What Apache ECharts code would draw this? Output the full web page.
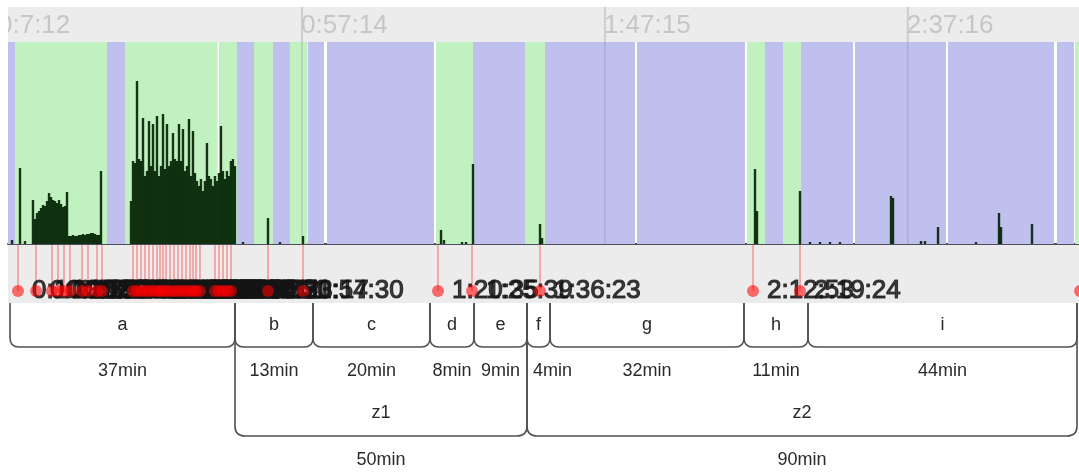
<!DOCTYPE html>
<html>
<head>
<meta charset="utf-8">
<title>activity timeline</title>
<script src="https://cdn.jsdelivr.net/npm/echarts@6/dist/echarts.min.js"></script>
<style>
  html, body { margin: 0; padding: 0; background: #fff; }
  #chart { width: 1079px; height: 472px; }
</style>
</head>
<body>
<div id="chart"></div>
<script>
// all times are minutes since 0:00:00
const timeMin = 8.686
const timeMax = 185.54

// header ticks
const tickTimes = [7.2, 57.2333, 107.25, 157.2667]

// background bands (0 = awake / green, 1 = asleep / purple)
const bandStart = [8.686, 9.84, 25.03, 28.01, 43.53, 46.50, 49.31, 52.44, 55.25, 58.22, 61.36, 79.36,
  85.47, 94.06, 97.36, 112.55, 130.71, 133.69, 136.66, 139.63, 148.55, 163.90, 181.90, 184.88]
const bandEnd = [9.84, 25.03, 28.01, 43.28, 46.50, 49.31, 52.44, 55.25, 58.14, 60.87, 79.03, 85.47,
  94.06, 97.36, 112.22, 130.38, 133.69, 136.66, 139.63, 148.22, 163.57, 181.41, 184.71, 186.0]
const bandKind = [1, 0, 1, 0, 0, 1, 0, 1, 0, 1, 1, 0, 1, 0, 1, 1, 0, 1, 0, 1, 1, 1, 1, 0]

// activity counts
const activityTime = [
  9.35, 10.67, 11.49,
  12.81, 13.14, 13.47, 13.81, 14.14, 14.47, 14.80, 15.13, 15.46, 15.79, 16.12, 16.45, 16.78, 17.11, 17.44, 17.77, 18.10, 18.43,
  18.76, 19.09, 19.42, 19.75, 20.08, 20.41, 20.74, 21.07, 21.40, 21.73, 22.06, 22.39, 22.72, 23.05, 23.38, 23.71, 24.04,
  29.00, 29.33, 29.66, 29.99, 30.32, 30.65, 30.98, 31.31, 31.64, 31.97, 32.30, 32.63, 32.96, 33.29, 33.62, 33.95, 34.28, 34.61,
  34.94, 35.27, 35.60, 35.93, 36.26, 36.59, 36.92, 37.25, 37.58, 37.91, 38.24, 38.57, 38.90, 39.23, 39.56, 39.89, 40.22, 40.55,
  40.88, 41.21, 41.54, 41.87, 42.20, 42.53, 42.86, 43.19, 43.52, 43.85, 44.18, 44.51, 44.84, 45.17, 45.50, 45.83, 46.16,
  47.49, 51.62, 53.60, 57.40, 80.19, 80.68, 83.66, 84.32, 85.47, 96.54, 96.87, 132.04, 132.37, 139.47, 141.12, 142.77,
  144.42, 146.07, 154.50, 154.83, 159.45, 160.11, 162.26, 168.53, 172.33, 172.66, 177.78
]
const activityValue = [
  4, 76, 3,
  44, 25, 31, 33, 36, 39, 38, 43, 51, 47, 44, 43, 41, 44, 40, 37, 38, 52,
  8, 8, 9, 8, 8, 9, 9, 10, 9, 10, 10, 11, 11, 10, 9, 9, 73,
  43, 83, 81, 163, 85, 83, 126, 68, 73, 123, 78, 120, 73, 128, 68, 78, 130, 75,
  120, 78, 83, 111, 85, 83, 120, 83, 115, 73, 78, 125, 68, 113, 71, 63, 58, 65,
  53, 63, 101, 68, 65, 58, 68, 63, 71, 118, 73, 65, 73, 68, 83, 85, 78,
  2, 26, 2, 8, 14, 4, 2, 2, 80, 20, 6, 75, 33, 53, 2, 2,
  2, 2, 48, 46, 3, 3, 17, 2, 31, 17, 20
]

// marked events
const eventTime = [10.34, 13.31, 15.95, 16.94, 17.93, 18.92, 20.91, 21.90, 23.38, 24.21, 29.33, 29.99, 30.65, 31.31,
  31.97, 32.63, 33.29, 33.79, 34.28, 34.78, 35.44, 36.10, 36.76, 37.42, 38.08, 38.74, 39.24, 39.73, 40.39, 42.87,
  43.53, 44.19, 44.85, 45.51, 51.62, 57.40, 79.69, 85.31, 96.54, 131.71, 139.47, 185.71]
const eventLabel = ['0:10:20', '0:13:19', '0:15:57', '0:16:56', '0:17:56', '0:18:55', '0:20:55', '0:21:54', '0:23:23',
  '0:24:13', '0:29:20', '0:29:59', '0:30:39', '0:31:19', '0:31:58', '0:32:38', '0:33:17', '0:33:47', '0:34:17',
  '0:34:47', '0:35:26', '0:36:06', '0:36:46', '0:37:25', '0:38:05', '0:38:44', '0:39:14', '0:39:44', '0:40:23',
  '0:42:52', '0:43:32', '0:44:11', '0:44:51', '0:45:31', '0:53:17', '0:54:30', '1:20:35', '1:25:39', '1:36:23',
  '2:12:53', '2:19:24', '3:05:42']

// segments
const segStart = [9.02, 46.17, 59.05, 78.37, 85.64, 94.39, 98.19, 130.22, 140.79]
const segEnd = [46.17, 59.05, 78.37, 85.64, 94.39, 98.19, 130.22, 140.79, 185.21]
const segName = ['a', 'b', 'c', 'd', 'e', 'f', 'g', 'h', 'i']
const segDuration = ['37min', '13min', '20min', '8min', '9min', '4min', '32min', '11min', '44min']

const groupStart = [46.17, 94.39]
const groupEnd = [94.39, 185.21]
const groupName = ['z1', 'z2']
const groupDuration = ['50min', '90min']

const FONT = '"Liberation Sans", Arial, sans-serif'
const DOT_ROW = 46
const bandColors = ['#c1f0c1', '#c0c0ee']

function fmtTime(m) {
  const s = Math.round(m * 60)
  const h = Math.floor(s / 3600)
  const mm = Math.floor((s % 3600) / 60)
  const ss = s % 60
  return h + ':' + mm + ':' + (ss < 10 ? '0' : '') + ss
}

function bracketPath(x0, x1, y0, y1, r) {
  return 'M' + x0 + ',' + y0 + ' L' + x0 + ',' + (y1 - r) +
    ' Q' + x0 + ',' + y1 + ' ' + (x0 + r) + ',' + y1 +
    ' L' + (x1 - r) + ',' + y1 +
    ' Q' + x1 + ',' + y1 + ' ' + x1 + ',' + (y1 - r) +
    ' L' + x1 + ',' + y0
}

function txt(text, x, y, align) {
  return {
    type: 'text',
    style: {
      text: text, x: x, y: y,
      align: align || 'center', verticalAlign: 'middle',
      textAlign: align || 'center', textVerticalAlign: 'middle',
      fill: '#2a2a2a', fontSize: 18, fontFamily: FONT
    }
  }
}

const chart = echarts.init(document.getElementById('chart'))

const xBase = { type: 'value', min: timeMin, max: timeMax, show: false }

const option = {
  animation: false,
  textStyle: { fontFamily: FONT },
  grid: [
    { left: 8, width: 1071, top: 7, height: 35, show: true, backgroundColor: '#ececec', borderWidth: 0 },
    { left: 8, width: 1071, top: 42, height: 202, show: false },
    { left: 8, width: 1071, top: 245, height: 58, show: true, backgroundColor: '#ececec', borderWidth: 0 },
    { left: 8, width: 1071, top: 303, height: 169, show: false }
  ],
  xAxis: [
    Object.assign({ gridIndex: 0 }, xBase),
    {
      gridIndex: 1, type: 'value', min: timeMin, max: timeMax,
      axisLine: { show: true, onZero: false, lineStyle: { color: '#4d4d5c', width: 2 } },
      axisTick: { show: false }, axisLabel: { show: false }, splitLine: { show: false }
    },
    Object.assign({ gridIndex: 2 }, xBase),
    Object.assign({ gridIndex: 3 }, xBase)
  ],
  yAxis: [
    { gridIndex: 0, type: 'value', min: 0, max: 1, show: false },
    { gridIndex: 1, type: 'value', min: 0, max: 202, show: false },
    { gridIndex: 2, type: 'value', min: 0, max: 58, inverse: true, show: false },
    { gridIndex: 3, type: 'value', min: 0, max: 1, show: false }
  ],
  series: [
    // header tick labels
    {
      type: 'custom', xAxisIndex: 0, yAxisIndex: 0, clip: true, silent: true,
      data: tickTimes.map(t => [t]),
      renderItem: (params, api) => {
        const p = api.coord([api.value(0), 0.5])
        const cs = params.coordSys
        return {
          type: 'group',
          children: [
            { type: 'rect', shape: { x: p[0] - 1, y: cs.y, width: 2, height: cs.height }, style: { fill: 'rgba(0,0,0,0.13)' } },
            {
              type: 'text',
              style: {
                text: fmtTime(api.value(0)), x: p[0] - 1, y: p[1] + 1,
                align: 'left', verticalAlign: 'middle', textAlign: 'left', textVerticalAlign: 'middle',
                fill: '#c6c6c6', fontSize: 26, fontFamily: FONT
              }
            }
          ]
        }
      }
    },
    // bands
    {
      type: 'custom', xAxisIndex: 1, yAxisIndex: 1, clip: true, silent: true, z: 1,
      data: bandStart.map((s, i) => [s, bandEnd[i], bandKind[i]]),
      renderItem: (params, api) => {
        const p0 = api.coord([api.value(0), 202])
        const p1 = api.coord([api.value(1), 0])
        return {
          type: 'rect',
          shape: { x: p0[0], y: p0[1], width: p1[0] - p0[0], height: p1[1] - p0[1] },
          style: { fill: bandColors[api.value(2)] }
        }
      }
    },
    // tick lines through the plot
    {
      type: 'custom', xAxisIndex: 1, yAxisIndex: 1, clip: true, silent: true, z: 2,
      data: tickTimes.map(t => [t]),
      renderItem: (params, api) => {
        const p = api.coord([api.value(0), 0])
        const cs = params.coordSys
        return { type: 'rect', shape: { x: p[0] - 1, y: cs.y, width: 2, height: cs.height }, style: { fill: 'rgba(60,60,90,0.12)' } }
      }
    },
    // activity
    {
      type: 'custom', xAxisIndex: 1, yAxisIndex: 1, clip: true, silent: true, z: 3,
      data: activityTime.map((t, i) => [t, activityValue[i]]),
      renderItem: (params, api) => {
        const top = api.coord([api.value(0), api.value(1)])
        const base = api.coord([api.value(0), 0])
        return {
          type: 'rect',
          shape: { x: top[0] - 1.2, y: top[1], width: 2.4, height: base[1] - top[1] },
          style: { fill: 'rgba(0,32,0,0.9)' }
        }
      }
    },
    // event stems
    {
      type: 'custom', xAxisIndex: 2, yAxisIndex: 2, clip: true, silent: true, z: 2,
      data: eventTime.map(t => [t]),
      renderItem: (params, api) => {
        const a = api.coord([api.value(0), 0])
        const b = api.coord([api.value(0), DOT_ROW])
        return { type: 'line', shape: { x1: a[0], y1: a[1], x2: b[0], y2: b[1] }, style: { stroke: 'rgba(255,0,0,0.28)', lineWidth: 2 } }
      }
    },
    // event labels
    {
      type: 'scatter', xAxisIndex: 2, yAxisIndex: 2, clip: false, silent: true, z: 3,
      data: eventTime.map(t => [t, DOT_ROW]),
      symbolSize: 12,
      itemStyle: { color: 'transparent' },
      label: {
        show: true, position: 'right', distance: 8,
        formatter: p => eventLabel[p.dataIndex],
        color: '#151515', fontSize: 26, fontFamily: FONT,
        textBorderColor: '#151515', textBorderWidth: 1.2
      }
    },
    // event dots
    {
      type: 'scatter', xAxisIndex: 2, yAxisIndex: 2, clip: false, silent: true, z: 4,
      data: eventTime.map(t => [t, DOT_ROW]),
      symbolSize: 12,
      itemStyle: { color: 'rgba(255,0,0,0.7)' }
    },
    // segment brackets
    {
      type: 'custom', xAxisIndex: 3, yAxisIndex: 3, clip: false, silent: true, z: 2,
      data: segStart.map((s, i) => [s, segEnd[i]]),
      renderItem: (params, api) => {
        const i = params.dataIndex
        const x0 = api.coord([api.value(0), 0])[0]
        const x1 = api.coord([api.value(1), 0])[0]
        const top = params.coordSys.y
        const narrow = x1 - x0 < 30
        return {
          type: 'group',
          children: [
            {
              type: 'path',
              shape: { pathData: bracketPath(x0, x1, top, top + 44, 9) },
              style: { stroke: '#505050', lineWidth: 1.6, fill: null }
            },
            txt(segName[i], (x0 + x1) / 2, top + 22),
            narrow ? txt(segDuration[i], x0 + 6, top + 68, 'left') : txt(segDuration[i], (x0 + x1) / 2, top + 68)
          ]
        }
      }
    },
    // group brackets
    {
      type: 'custom', xAxisIndex: 3, yAxisIndex: 3, clip: false, silent: true, z: 2,
      data: groupStart.map((s, i) => [s, groupEnd[i]]),
      renderItem: (params, api) => {
        const i = params.dataIndex
        const x0 = api.coord([api.value(0), 0])[0]
        const x1 = api.coord([api.value(1), 0])[0]
        const top = params.coordSys.y
        return {
          type: 'group',
          children: [
            {
              type: 'path',
              shape: { pathData: bracketPath(x0, x1, top, top + 133, 10) },
              style: { stroke: '#505050', lineWidth: 1.6, fill: null }
            },
            txt(groupName[i], (x0 + x1) / 2, top + 110),
            txt(groupDuration[i], (x0 + x1) / 2, top + 157)
          ]
        }
      }
    }
  ]
}

chart.setOption(option)
</script>
</body>
</html>
